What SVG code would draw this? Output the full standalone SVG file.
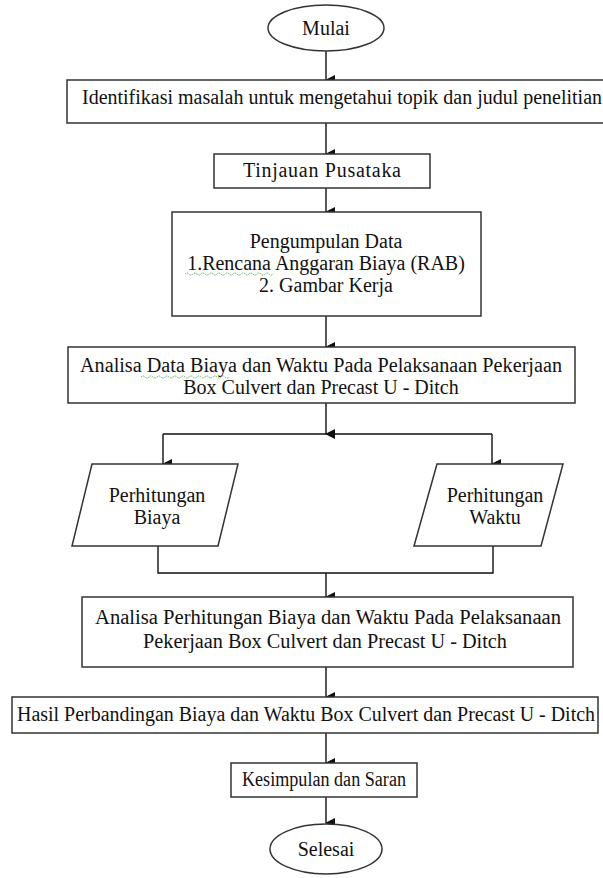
<svg xmlns="http://www.w3.org/2000/svg" width="603" height="878" viewBox="0 0 603 878">
<defs>
<marker id="ah" markerWidth="10" markerHeight="10" refX="5" refY="9" orient="auto" markerUnits="userSpaceOnUse" viewBox="0 0 10 10">
<path d="M0,0 L10,0 L5,10 Z" fill="#111"/>
</marker>
</defs>
<style>
.box{fill:#fff;stroke:#333;stroke-width:1.5}
.t{font-family:"Liberation Serif","Times New Roman",serif;font-size:20px;fill:#111;text-anchor:middle}
.c{fill:none;stroke:#111;stroke-width:1.4}
.ca{fill:none;stroke:#111;stroke-width:1.4;marker-end:url(#ah)}
.sq{fill:none;stroke:#4caf50;stroke-width:1;stroke-dasharray:1.2,0.8}
</style>
<rect width="603" height="878" fill="#fff"/>
<g id="connectors">
<line class="ca" x1="326" y1="51" x2="326" y2="80"/>
<line class="ca" x1="326" y1="123" x2="326" y2="154"/>
<line class="ca" x1="326" y1="188" x2="326" y2="212"/>
<line class="ca" x1="326" y1="316" x2="326" y2="347"/>
<line class="ca" x1="326" y1="403" x2="326" y2="434"/>
<polyline class="c" points="163,434 492,434"/>
<line class="ca" x1="163" y1="434" x2="163" y2="464"/>
<line class="ca" x1="492" y1="434" x2="492" y2="464"/>
<polyline class="c" points="158,546 158,573 493,573 493,546"/>
<line class="ca" x1="326" y1="573" x2="326" y2="597"/>
<line class="ca" x1="326" y1="667" x2="326" y2="697"/>
<line class="ca" x1="326" y1="733" x2="326" y2="763"/>
<line class="ca" x1="326" y1="797" x2="326" y2="823"/>
</g>
<g id="mulai">
<ellipse class="box" cx="326" cy="28" rx="58" ry="23"/>
<text class="t" x="326" y="35">Mulai</text>
</g>
<g id="identifikasi">
<rect class="box" x="67" y="80" width="545" height="43"/>
<text class="t" x="82" y="104" style="text-anchor:start" textLength="520" lengthAdjust="spacingAndGlyphs">Identifikasi masalah untuk mengetahui topik dan judul penelitian</text>
</g>
<g id="tinjauan">
<rect class="box" x="214" y="154" width="216" height="34"/>
<text class="t" x="322" y="177" textLength="158" lengthAdjust="spacing">Tinjauan Pusataka</text>
</g>
<g id="pengumpulan">
<rect class="box" x="172" y="212" width="309" height="104"/>
<text class="t" x="326" y="248">Pengumpulan Data</text>
<text class="t" x="326" y="270">1.Rencana Anggaran Biaya (RAB)</text>
<text class="t" x="326" y="292">2. Gambar Kerja</text>
<path class="sq" d="M185,274 q2,-2 4,0 t4,0 t4,0 t4,0 t4,0 t4,0 t4,0 t4,0 t4,0 t4,0 t4,0 t4,0 t4,0 t4,0 t4,0 t4,0 t4,0 t4,0 t4,0 t4,0 t4,0 t4,0"/>
</g>
<g id="analisa-data">
<rect class="box" x="68" y="347" width="507" height="56"/>
<text class="t" x="321" y="372" textLength="482" lengthAdjust="spacingAndGlyphs">Analisa Data  Biaya dan Waktu Pada Pelaksanaan Pekerjaan</text>
<text class="t" x="321" y="394">Box Culvert dan Precast U - Ditch</text>
<path class="sq" d="M141,377 q2,-2 4,0 t4,0 t4,0 t4,0 t4,0 t4,0 t4,0 t4,0 t4,0 t4,0 t4,0 t4,0 t4,0 t4,0 t4,0 t4,0 t4,0 t4,0 t4,0 t4,0 t4,0 t4,0"/>
</g>
<g id="perhitungan-biaya">
<polygon class="box" points="92,464 238,464 218,546 72,546"/>
<text class="t" x="157" y="502">Perhitungan</text>
<text class="t" x="157" y="524">Biaya</text>
</g>
<g id="perhitungan-waktu">
<polygon class="box" points="437,464 563,464 541,546 414,546"/>
<text class="t" x="495" y="502">Perhitungan</text>
<text class="t" x="495" y="524">Waktu</text>
</g>
<g id="analisa-perhitungan">
<rect class="box" x="82" y="597" width="491" height="70"/>
<text class="t" x="328" y="624" textLength="466" lengthAdjust="spacingAndGlyphs">Analisa Perhitungan Biaya dan Waktu Pada Pelaksanaan</text>
<text class="t" x="325" y="648" textLength="364" lengthAdjust="spacingAndGlyphs">Pekerjaan Box Culvert dan Precast U - Ditch</text>
</g>
<g id="hasil">
<rect class="box" x="12" y="697" width="586" height="36"/>
<text class="t" x="306" y="721" textLength="578" lengthAdjust="spacingAndGlyphs">Hasil Perbandingan Biaya dan Waktu Box Culvert dan Precast U - Ditch</text>
</g>
<g id="kesimpulan">
<rect class="box" x="231" y="763" width="186" height="34"/>
<text class="t" x="324" y="786" textLength="164" lengthAdjust="spacingAndGlyphs">Kesimpulan dan Saran</text>
</g>
<g id="selesai">
<ellipse class="box" cx="326" cy="849" rx="56" ry="25"/>
<text class="t" x="326" y="856">Selesai</text>
</g>
</svg>
